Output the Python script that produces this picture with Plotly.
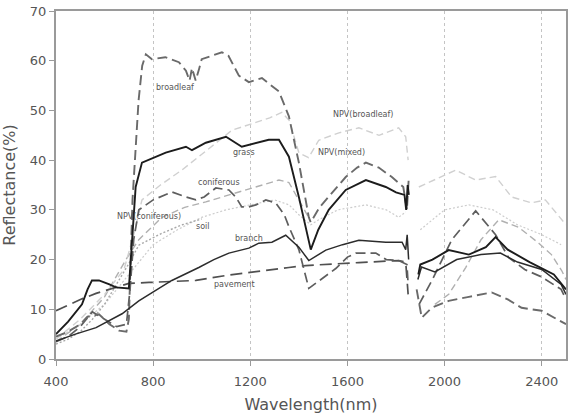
import plotly.graph_objects as go

# ---- data: (wavelength nm, reflectance %) pairs; None = gap ----
broadleaf = [(400,4.5),(450,5.5),(500,7),(530,8.5),(577,9),(620,7),(660,5.7),(690,5.5),(700,8),(715,32),
             (740,52),(755,59),(770,61.3),(795,60.3),(850,60.7),(906,59.7),(935,58),(950,56),(960,58.5),(975,56),
             (990,58.5),(1000,60.3),(1083,61.7),(1110,61),(1153,57),(1194,55.7),(1248,56.5),(1318,53.8),(1359,48.8),
             (1400,39.5),(1441,28.5),(1449,27.5),(1485,30.5),(1523,32.6),(1593,36.6),(1640,38.5),(1676,39.5),
             (1729,38.5),(1783,36.6),(1830,34.6),(1845,30),(1852,36),(1870,None),(1885,14),(1906,8.3),(1947,10.3),
             (2017,11.7),(2100,12.5),(2194,13.4),(2260,12),(2317,10.3),(2400,9.7),(2470,7.7),(2500,7)]

grass = [(400,5),(450,7.5),(507,11),(530,14),(548,15.8),(577,15.8),(620,15),(647,14.4),(700,14.2),(710,22),
         (728,34.6),(754,39.5),(811,40.7),(852,41.5),(935,42.7),(960,42),(1017,43.5),(1100,44.7),(1165,42.7),
         (1223,43.5),(1276,44.1),(1318,44.1),(1359,40.7),(1400,32.6),(1449,22),(1480,26),(1523,30),(1593,34),
         (1676,36),(1758,34.6),(1800,33.5),(1835,33),(1842,30),(1848,35),(1853,33),(1870,None),(1892,17),
         (1900,19),(1950,20),(2017,21.9),(2100,21),(2170,22.5),(2210,24.5),(2260,22),(2350,19.5),(2450,17),(2500,14)]

coniferous = [(400,3.5),(450,4.5),(500,6.5),(550,9.5),(600,8),(650,6.5),(690,7),(705,14),(720,24),(741,30),
              (800,32),(877,33.6),(935,32.6),(976,32),(1010,32.6),(1058,34.4),(1112,34),(1140,32.6),(1165,30.6),
              (1194,30.6),(1223,31),(1264,32),(1305,31.4),(1340,29),(1360,26.5),(1400,22),(1441,14.2),(1495,16.2),
              (1552,18.2),(1600,20.5),(1635,21.3),(1717,21.3),(1760,20),(1811,19.8),(1845,19),(1850,15),(1870,None),
              (1895,11),(1950,16),(2030,24),(2128,29.8),(2210,25),(2264,20.4),(2330,18),(2400,16.5),(2480,14),(2500,12)]

npv_coniferous = [(400,3.5),(500,7),(600,12.5),(688,20),(741,24),(836,28.5),(930,30.5),(1017,31.6),(1153,33.6),
                  (1250,35),(1318,36),(1359,35.5),(1400,32),(1440,28.5),(1460,None),(1960,11),(2017,13),(2087,18.4),
                  (2150,24),(2223,28),(2305,26.5),(2388,23.3),(2440,21),(2482,17.8),(2500,16)]

soil = [(400,3),(450,4),(500,5.5),(550,8),(600,11),(650,15),(700,19.2),(741,22.9),(836,25.3),(920,27),
        (960,27.5),(988,28),(1000,28.2)]

branch = [(400,3.6),(480,5),(565,6.3),(672,9.1),(741,11.7),(800,13.5),(877,15.8),(988,18.4),(1050,20),(1112,21.3),
          (1194,22.3),(1235,23.3),(1289,23.5),(1346,24.9),(1400,22.5),(1441,19.8),(1511,21.9),(1580,23),(1647,23.9),
          (1758,23.5),(1825,23.5),(1840,22),(1846,25),(1852,20),(1870,None),(1890,16),(1905,18.5),(1960,17.5),
          (2050,20),(2150,21),(2230,21.3),(2300,19.5),(2400,18),(2480,15),(2500,13)]

pavement = [(400,9.7),(507,12.1),(565,13.2),(650,14.5),(700,15.2),(783,15.4),(900,15.6),(976,15.8),(1100,16.8),
            (1248,17.8),(1359,18.4),(1428,18.8),(1550,19.2),(1647,19.4),(1811,19.8),(1840,19.5),(1850,13)]

npv_broadleaf = [(400,4),(500,8),(600,13),(680,18),(720,25),(754,32),(830,35),(918,38),(988,40.7),(1060,43.5),
                 (1124,46),(1223,47.6),(1280,48.5),(1330,49.6),(1360,48),(1400,41.5),(1440,40.5),(1482,44),
                 (1565,45.5),(1647,46.5),(1730,45),(1811,46.5),(1840,44.7),(1850,40),(1870,None),(1894,34.6),
                 (1990,36.7),(2046,38),(2128,36),(2210,36.7),(2276,32.6),(2358,31.4),(2415,32),(2480,28),(2500,27)]

npv_mixed = [(400,4),(500,7),(600,11),(700,17),(800,23),(900,26),(1000,28.5),(1100,30),(1200,31),(1300,32),
             (1360,31),(1400,29),(1449,27),(1482,28),(1560,30),(1676,31),(1760,30),(1811,28.5),(1840,29.6),
             (1870,None),(1900,26),(2000,30),(2100,31),(2200,30),(2300,27),(2400,25),(2480,23)]

x_ticks = [400, 800, 1200, 1600, 2000, 2400]
y_ticks = [0, 10, 20, 30, 40, 50, 60, 70]

labels = [("broadleaf", 890, 54.6), ("grass", 1174, 41.5), ("coniferous", 1071, 35.5),
          ("NPV(coniferous)", 783, 28.6), ("soil", 1005, 26.6), ("branch", 1194, 24.2),
          ("pavement", 1133, 14.9), ("NPV(broadleaf)", 1663, 49.2), ("NPV(mixed)", 1577, 41.5)]

# ---- styles ----
series = [
    ("NPV(mixed)", npv_mixed, dict(color="#cccccc", width=1.2, dash="2px,2px")),
    ("soil", soil, dict(color="#a8a8a8", width=1.4, dash="2px,2px")),
    ("NPV(coniferous)", npv_coniferous, dict(color="#b0b0b0", width=1.4, dash="7px,4px")),
    ("NPV(broadleaf)", npv_broadleaf, dict(color="#d0d0d0", width=1.4, dash="7px,4px")),
    ("pavement", pavement, dict(color="#505050", width=1.7, dash="12px,6px")),
    ("coniferous", coniferous, dict(color="#5e5e5e", width=1.7, dash="10px,5px")),
    ("broadleaf", broadleaf, dict(color="#6a6a6a", width=1.9, dash="10px,5px")),
    ("branch", branch, dict(color="#2c2c2c", width=1.5)),
    ("grass", grass, dict(color="#1c1c1c", width=1.9)),
]

fig = go.Figure()
for name, pts, line in series:
    fig.add_trace(go.Scatter(x=[p[0] for p in pts], y=[p[1] for p in pts], mode="lines",
                             name=name, line=line, connectgaps=False))

for text, x, y in labels:
    fig.add_annotation(x=x, y=y, text=text, showarrow=False,
                       font=dict(size=8, color="#555", family="DejaVu Sans"))

fig.update_layout(
    width=572, height=414, margin=dict(l=56, r=6, t=11, b=55),
    plot_bgcolor="white", paper_bgcolor="white", showlegend=False,
    font=dict(family="DejaVu Sans", color="#555"),
)
fig.update_xaxes(range=[400, 2500], tickvals=x_ticks, showgrid=True, gridcolor="#c4c4c4",
                 griddash="dot", gridwidth=1, showline=True, linecolor="#9a9a9a", linewidth=2,
                 mirror=True, ticks="outside", ticklen=5, tickcolor="#9a9a9a", zeroline=False,
                 tickfont=dict(size=13, color="#555"), ticklabelstandoff=4,
                 title=dict(text="Wavelength(nm)", font=dict(size=16, color="#555"), standoff=17),
                 automargin=False)
fig.update_yaxes(range=[0, 70], tickvals=y_ticks, showgrid=False, showline=True, linecolor="#9a9a9a",
                 linewidth=2, mirror=True, ticks="outside", ticklen=5, tickcolor="#9a9a9a", zeroline=False,
                 tickfont=dict(size=13, color="#555"),
                 title=dict(text="Reflectance(%)", font=dict(size=16, color="#555"), standoff=10),
                 automargin=False)

fig.write_html("out.html")
